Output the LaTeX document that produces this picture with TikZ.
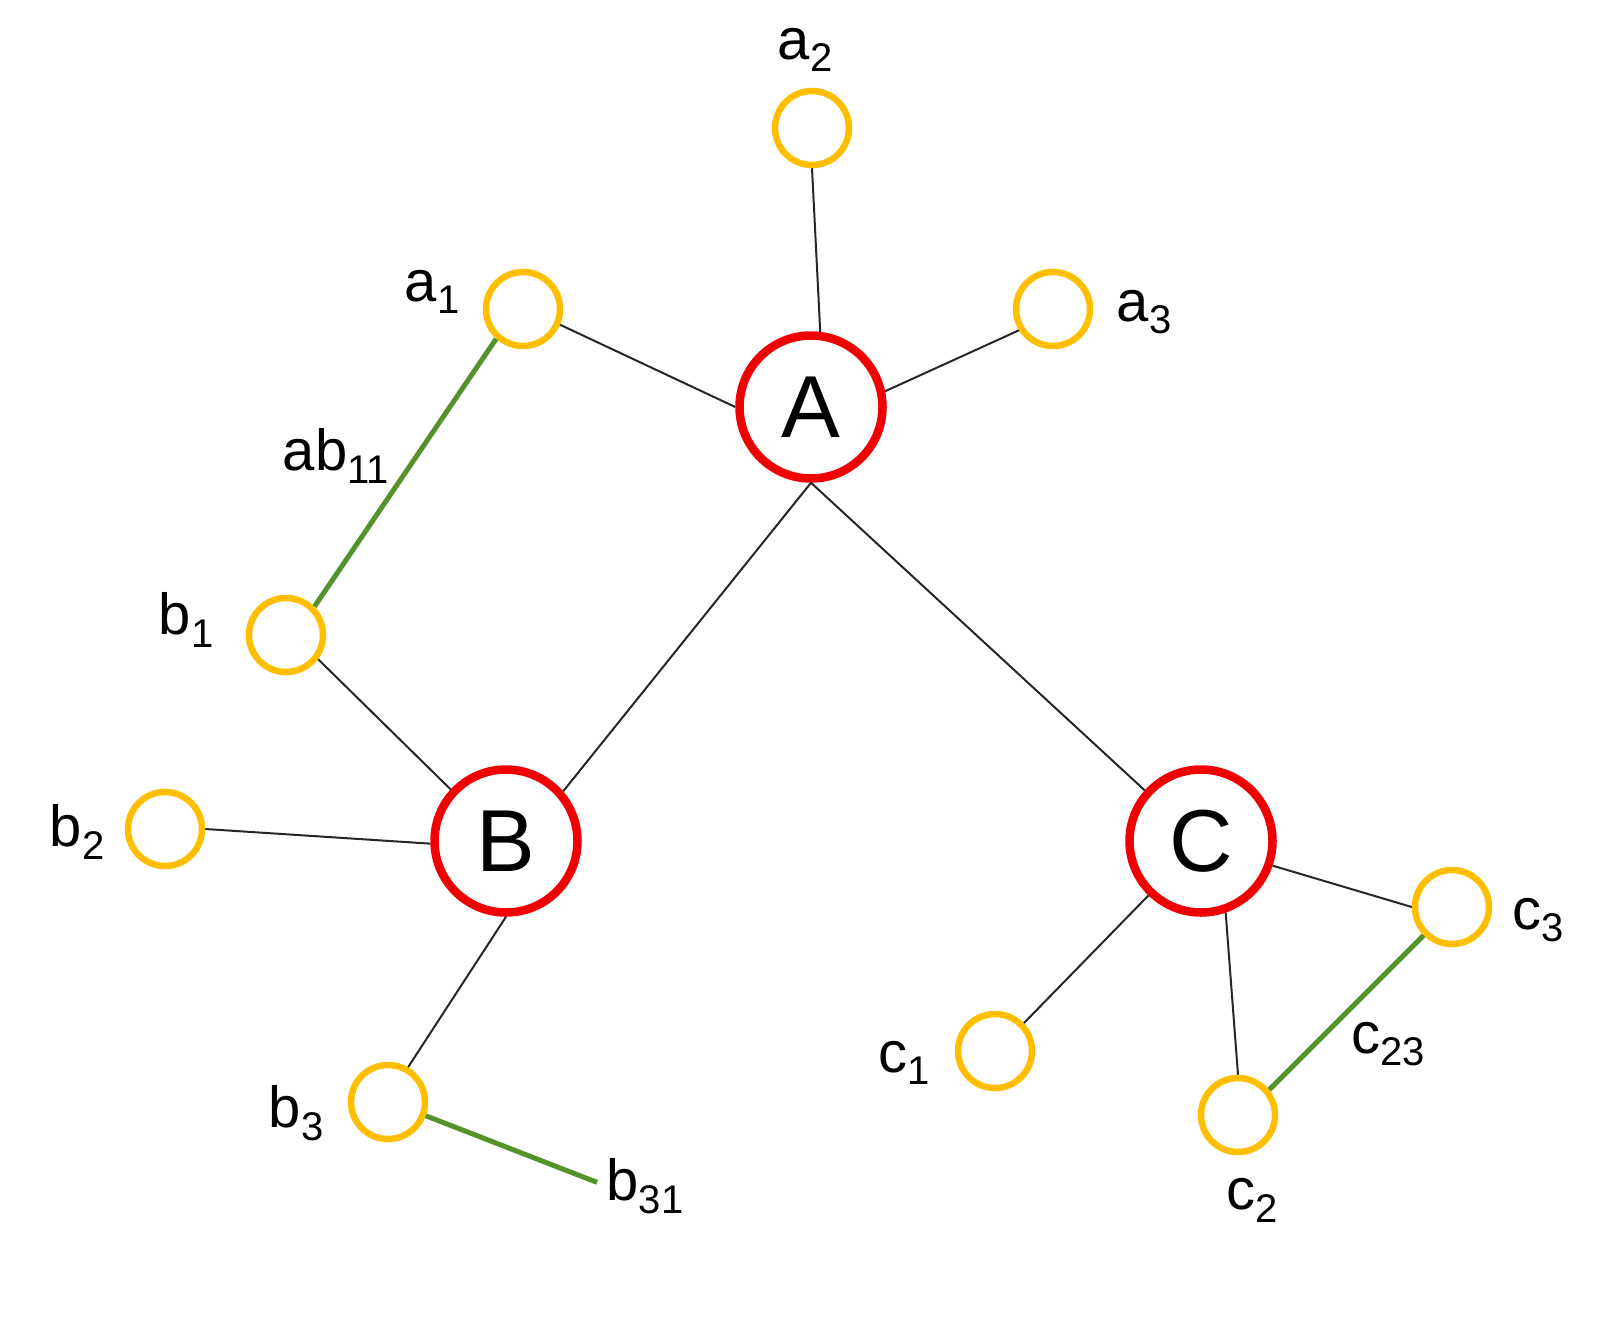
\documentclass[tikz,border=0pt]{standalone}
\usepackage{fontspec}
\setmainfont{Liberation Sans}
\definecolor{redc}{RGB}{240,0,0}
\definecolor{yel}{RGB}{255,190,0}
\definecolor{grn}{RGB}{84,146,44}
\newcommand\sbx[1]{\raisebox{-0.22em}{\fontsize{40}{40}\selectfont #1}}
\tikzset{
  mainnode/.style={circle, draw=redc, line width=8.5pt, minimum size=143pt, inner sep=0pt, font=\fontsize{88}{88}\selectfont},
  leaf/.style={circle, draw=yel, line width=6.5pt, minimum size=74pt, inner sep=0pt},
  lbl/.style={inner sep=0pt, font=\fontsize{58}{60}\selectfont},
  blk/.style={line width=2pt, draw=black!85},
  grnedge/.style={line width=5pt, draw=grn},
}
\begin{document}
\begin{tikzpicture}[x=1pt,y=-1pt]
\useasboundingbox (0,0) rectangle (1613,1327);
% main nodes
\node[mainnode] (A) at (811,407) {A};
\node[mainnode] (B) at (506,841) {B};
\node[mainnode] (C) at (1201,841) {C};
% leaves
\node[leaf] (a1) at (523,309) {};
\node[leaf] (a2) at (812,128) {};
\node[leaf] (a3) at (1053,309) {};
\node[leaf] (b1) at (286,635) {};
\node[leaf] (b2) at (165,829) {};
\node[leaf] (b3) at (388,1102) {};
\node[leaf] (c1) at (995,1051) {};
\node[leaf] (c2) at (1238,1115) {};
\node[leaf] (c3) at (1452,907) {};
% labels
\node[lbl] (la2) at (805,50) {a\sbx{2}};
\node[lbl] (la1) at (432,292) {a\sbx{1}};
\node[lbl] (la3) at (1144,312) {a\sbx{3}};
\node[lbl] (lab) at (336,456) {ab\sbx{11}};
\node[lbl] (lb1) at (186,620) {b\sbx{1}};
\node[lbl] (lb2) at (77,832) {b\sbx{2}};
\node[lbl] (lb3) at (296,1113) {b\sbx{3}};
\node[lbl] (b31) at (645,1186) {b\sbx{31}};
\node[lbl] (lc1) at (904,1063) {c\sbx{1}};
\node[lbl] (lc2) at (1252,1200) {c\sbx{2}};
\node[lbl] (lc3) at (1538,920) {c\sbx{3}};
\node[lbl] (lc23) at (1388,1044) {c\sbx{23}};
% black edges
\draw[blk] (a2.south) -- (A.83);
\draw[blk] (a1.-23) -- (A.west);
\draw[blk] (a3.212) -- (A.12);
\draw[blk] (A.south) -- (B.41);
\draw[blk] (A.south) -- (C.138);
\draw[blk] (b1.-37) -- (B.137);
\draw[blk] (b2.east) -- (B.182);
\draw[blk] (B.south) -- (b3.60);
\draw[blk] (C.226) -- (c1.44);
\draw[blk] (C.-71) -- (c2.north);
\draw[blk] (C.-19) -- (c3.west);
% green edges
\draw[grnedge] (a1.228) -- (b1.45);
\draw[grnedge, shorten >=10pt] (b3.-20) -- (b31.west);
\draw[grnedge] (c2.39) -- (c3.225);
\end{tikzpicture}
\end{document}
